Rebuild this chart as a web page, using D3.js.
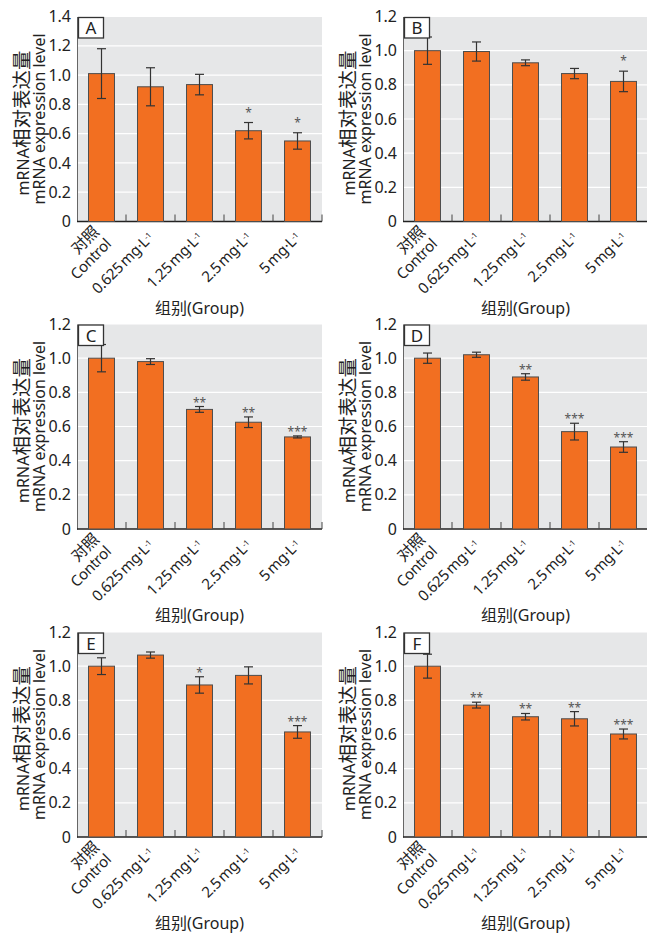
<!DOCTYPE html>
<html><head><meta charset="utf-8">
<script src="https://cdn.jsdelivr.net/npm/d3@7"></script>
<style>
body{margin:0;background:#fff}
svg{display:block}
text{font-family:"Noto Sans","Noto Sans CJK SC",sans-serif}
</style>
</head><body><svg id="c" width="647" height="933"></svg>
<script>
// ---- data ----
const categories = ["Control", "0.625", "1.25", "2.5", "5"];
const controlZh = "对照";
const doseUnit = "mg·L";
const doseExp = "-1";
const panelLetters = ["A", "B", "C", "D", "E", "F"];
const yMaxes = [1.4, 1.2, 1.2, 1.2, 1.2, 1.2];
const yTitleZhLatin = "mRNA";
const yTitleZhCjk = "相对表达量";
const yTitleEn = "mRNA expression level";
const xTitle = "组别(Group)";

const meansA = [1.01, 0.92, 0.935, 0.62, 0.55];
const errsA  = [0.17, 0.13, 0.07, 0.056, 0.056];
const sigA   = ["", "", "", "*", "*"];

const meansB = [1.0, 0.995, 0.929, 0.866, 0.82];
const errsB  = [0.08, 0.056, 0.017, 0.03, 0.06];
const sigB   = ["", "", "", "", "*"];

const meansC = [1.0, 0.98, 0.70, 0.625, 0.539];
const errsC  = [0.08, 0.017, 0.017, 0.031, 0.006];
const sigC   = ["", "", "**", "**", "***"];

const meansD = [1.0, 1.02, 0.89, 0.57, 0.48];
const errsD  = [0.03, 0.015, 0.019, 0.049, 0.031];
const sigD   = ["", "", "**", "***", "***"];

const meansE = [1.0, 1.065, 0.89, 0.946, 0.615];
const errsE  = [0.049, 0.018, 0.048, 0.05, 0.037];
const sigE   = ["", "", "*", "", "***"];

const meansF = [1.0, 0.772, 0.704, 0.692, 0.603];
const errsF  = [0.07, 0.017, 0.019, 0.042, 0.029];
const sigF   = ["", "**", "**", "**", "***"];

const allMeans = [meansA, meansB, meansC, meansD, meansE, meansF];
const allErrs = [errsA, errsB, errsC, errsD, errsE, errsF];
const allSig = [sigA, sigB, sigC, sigD, sigE, sigF];

// ---- layout ----
const colLeft = [77, 403];
const rowTop = [16.5, 324, 632];
const W = 245, H = 205;
const starGap = [12, 12, 6, 6, 6, 6];

const svg = d3.select("#c");
svg.append("rect").attr("width", 647).attr("height", 933).attr("fill", "#fff");

panelLetters.forEach((letter, i) => {
  const col = i % 2, row = Math.floor(i / 2);
  const g = svg.append("g").attr("transform", `translate(${colLeft[col]},${rowTop[row]})`);
  const means = allMeans[i], errs = allErrs[i], sig = allSig[i], yMax = yMaxes[i];

  const y = d3.scaleLinear().domain([0, yMax]).range([H, 0]);
  const x = d3.scaleBand().domain(categories).range([0, W]).paddingInner(0.47).paddingOuter(0.235);
  const ticks = d3.range(0, Math.round(yMax / 0.2) + 1).map(k => +(k * 0.2).toFixed(1));

  g.append("rect").attr("width", W).attr("height", H).attr("fill", "#e6e7e8");
  g.selectAll("line.grid").data(ticks.filter(t => t > 0)).join("line")
    .attr("class", "grid").attr("x1", 0).attr("x2", W)
    .attr("y1", d => y(d)).attr("y2", d => y(d))
    .attr("stroke", "#fff").attr("stroke-width", 1.2);

  const ya = g.append("g").call(d3.axisLeft(y).tickValues(ticks)
      .tickFormat(d => d === 0 ? "0" : d.toFixed(1)).tickSize(0).tickPadding(6));
  ya.select(".domain").attr("stroke", "#666");
  ya.selectAll("text").attr("font-size", 16).attr("fill", "#222")
    .style("font-family", '"Noto Sans",sans-serif');

  // bottom axis
  g.append("line").attr("x1", 0).attr("x2", W).attr("y1", H).attr("y2", H)
    .attr("stroke", "#222").attr("stroke-width", 1.3);
  g.selectAll("line.xt").data(categories).join("line").attr("class", "xt")
    .attr("x1", d => x(d) + x.bandwidth() / 2 + x.step() / 2)
    .attr("x2", d => x(d) + x.bandwidth() / 2 + x.step() / 2)
    .attr("y1", H).attr("y2", H - 7).attr("stroke", "#444").attr("stroke-width", 1);

  // bars
  g.selectAll("rect.bar").data(categories).join("rect").attr("class", "bar")
    .attr("x", d => x(d)).attr("width", x.bandwidth())
    .attr("y", (d, j) => y(means[j])).attr("height", (d, j) => H - y(means[j]))
    .attr("fill", "#f26f21").attr("stroke", "#4d4d4d").attr("stroke-width", 1);

  // error bars
  categories.forEach((c, j) => {
    const cx = x(c) + x.bandwidth() / 2;
    const t = y(means[j] + errs[j]), b = y(means[j] - errs[j]);
    const eg = g.append("g").attr("stroke", "#333").attr("stroke-width", 1.2);
    eg.append("line").attr("x1", cx).attr("x2", cx).attr("y1", t).attr("y2", b);
    eg.append("line").attr("x1", cx - 4.5).attr("x2", cx + 4.5).attr("y1", t).attr("y2", t);
    eg.append("line").attr("x1", cx - 4.5).attr("x2", cx + 4.5).attr("y1", b).attr("y2", b);
    if (sig[j]) {
      g.append("text").attr("x", cx).attr("y", t - starGap[i] + 6)
        .attr("text-anchor", "middle").attr("font-size", 12).attr("fill", "#555")
        .text(sig[j]);
    }
  });

  // letter box
  g.append("rect").attr("x", 1.5).attr("y", 1).attr("width", 25).attr("height", 20.5)
    .attr("fill", "#fff").attr("stroke", "#333").attr("stroke-width", 1.3);
  g.append("text").attr("x", 14).attr("y", 17.5).attr("text-anchor", "middle")
    .attr("font-size", 17).attr("fill", "#222").text(letter);

  // x labels
  categories.forEach((c, j) => {
    const cx = x(c) + x.bandwidth() / 2;
    const lg = g.append("g").attr("transform", `translate(${cx + 4},${H + 17}) rotate(-45)`);
    const tx = lg.append("text").attr("text-anchor", "end").attr("font-size", 15)
      .attr("fill", "#222").attr("letter-spacing", -0.3);
    if (j === 0) {
      tx.append("tspan").attr("x", 0).attr("dy", "-0.5em").attr("font-size", 16).text(controlZh);
      tx.append("tspan").attr("x", 0).attr("dy", "1.15em").text(c);
    } else {
      tx.append("tspan").text(c + "\u2009" + doseUnit);
      tx.append("tspan").attr("dy", "-0.5em").attr("font-size", 8).text(doseExp);
    }
  });

  // y title
  const t1 = g.append("text").attr("transform", `translate(-48,${H / 2 + 4}) rotate(-90)`)
    .attr("text-anchor", "middle").attr("fill", "#222");
  t1.append("tspan").attr("font-size", 16).text(yTitleZhLatin);
  t1.append("tspan").attr("font-size", 19.5).text(yTitleZhCjk);
  g.append("text").attr("transform", `translate(-32,${H / 2}) rotate(-90)`)
    .attr("text-anchor", "middle").attr("font-size", 16).attr("fill", "#222").text(yTitleEn);

  // x title
  g.append("text").attr("x", W / 2).attr("y", H + 92).attr("text-anchor", "middle")
    .attr("font-size", 16).attr("fill", "#222").text(xTitle);
});
</script>
</body></html>
